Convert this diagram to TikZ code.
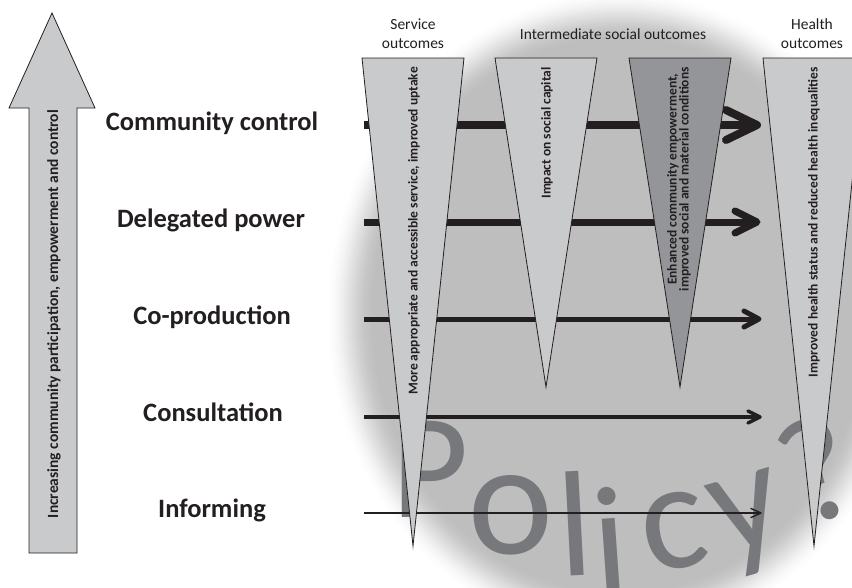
\documentclass[tikz,border=0pt]{standalone}
\usepackage{fontspec}
\setmainfont{Carlito}
\definecolor{ink}{RGB}{35,31,32}
\definecolor{funnelgray}{RGB}{201,202,204}
\definecolor{funneldark}{RGB}{147,149,152}
\definecolor{discgray}{RGB}{190,190,190}
\definecolor{policygray}{RGB}{119,120,123}
\definecolor{arrowgray}{RGB}{201,202,204}
\begin{document}
\begin{tikzpicture}[x=1pt,y=-1pt,
  lvl/.style={font=\fontsize{26.5}{26.5}\selectfont\bfseries, text=ink, inner sep=0},
  hdr/.style={font=\fontsize{15.5}{19}\selectfont, text=ink, align=center, inner sep=0},
  ftext/.style={font=\fontsize{13.5}{12}\selectfont\bfseries, text=ink, rotate=90, anchor=east, align=center, inner sep=0},
  funnel/.style={draw=ink, line width=0.8pt, fill=funnelgray},
  letter/.style={font=\fontsize{150}{150}\selectfont, text=policygray, anchor=base, inner sep=0},
  shaft/.style={draw=ink, line cap=butt},
  head/.style={draw=ink, line cap=round, line join=round}]
\useasboundingbox (0,0) rectangle (852,587);
\clip (0,0) rectangle (852,587);
\fill[white] (0,0) rectangle (852,587);
% soft-edged disc
\foreach \k in {0,...,50}{
  \pgfmathsetmacro{\t}{\k/50}
  \pgfmathsetmacro{\p}{100*(3*\t*\t-2*\t*\t*\t)}
  \pgfmathsetmacro{\dd}{25-\k}
  \fill[discgray!\p!white] (620,315) ellipse [x radius=270+\dd, y radius=300+\dd];
}
% Policy?
\node[letter] (pP) at (430,517) {P};
\node[letter, rotate=2, font=\fontsize{162}{162}\selectfont] (po) at (512,554) {o};
\node[letter, rotate=3] (pl) at (578,576) {l};
\node[letter, rotate=4] (pi) at (614,590) {i};
\node[letter, rotate=10, font=\fontsize{155}{155}\selectfont] (pc) at (681,568) {c};
\node[letter, rotate=16, font=\fontsize{155}{155}\selectfont] (py) at (757,548) {y};
\node[letter, rotate=22] (pq) at (837,516) {?};
% horizontal arrows
\coordinate (s1) at (364,125); \coordinate (e1) at (757,125);
\coordinate (s2) at (364,222); \coordinate (e2) at (757,222);
\coordinate (s3) at (364,319); \coordinate (e3) at (759,319);
\coordinate (s4) at (364,417); \coordinate (e4) at (760,417);
\coordinate (s5) at (364,513); \coordinate (e5) at (761,513);
\draw[shaft, line width=8pt] (s1) -- (e1);
\draw[head, line width=8pt] (e1) ++(-31,-15) -- (e1) -- ++(-31,15);
\draw[shaft, line width=7pt] (s2) -- (e2);
\draw[head, line width=7pt] (e2) ++(-22,-11) -- (e2) -- ++(-22,11);
\draw[shaft, line width=5pt] (s3) -- (e3);
\draw[head, line width=5pt] (e3) ++(-15,-8) -- (e3) -- ++(-15,8);
\draw[shaft, line width=3.5pt] (s4) -- (e4);
\draw[head, line width=3.5pt] (e4) ++(-12,-6) -- (e4) -- ++(-12,6);
\draw[shaft, line width=1.4pt] (s5) -- (e5);
\draw[head, line width=1.4pt] (e5) ++(-10,-4.5) -- (e5) -- ++(-10,4.5);
% funnels
\draw[funnel] (362,58) -- (464,58) -- (413,546) -- cycle;
\draw[funnel] (495,58) -- (597,58) -- (546,387) -- cycle;
\draw[funnel, fill=funneldark] (629,58) -- (731,58) -- (680,387) -- cycle;
\draw[funnel] (763,58) -- (865,58) -- (814,546) -- cycle;
\node[ftext] (t1) at (414,67) {More appropriate and accessible service, improved uptake};
\node[ftext] (t2) at (547,67) {Impact on social capital};
\node[ftext] (t3) at (679,67) {Enhanced community empowerment,\\improved social and material conditions};
\node[ftext] (t4) at (814,67) {Improved health status and reduced health inequalities};
% headers
\node[hdr] (h1) at (413,34) {Service\\outcomes};
\node[hdr] (h2) at (613,34) {Intermediate social outcomes};
\node[hdr] (h3) at (812,34) {Health\\outcomes};
% level labels
\node[lvl] (l1) at (212,123) {Community control};
\node[lvl] (l2) at (211,220) {Delegated power};
\node[lvl] (l3) at (212,317) {Co-production};
\node[lvl] (l4) at (213,412) {Consultation};
\node[lvl] (l5) at (212,510) {Informing};
% big arrow
\draw[draw=ink, line width=0.8pt, fill=arrowgray]
  (52,13) -- (95,108) -- (77,108) -- (77,553) -- (29,553) -- (29,108) -- (9,108) -- cycle;
\node[font=\fontsize{15.5}{15.5}\selectfont\bfseries, text=ink, rotate=90, inner sep=0] (bt) at (54,314)
  {Increasing community participation, empowerment and control};
\end{tikzpicture}
\end{document}
